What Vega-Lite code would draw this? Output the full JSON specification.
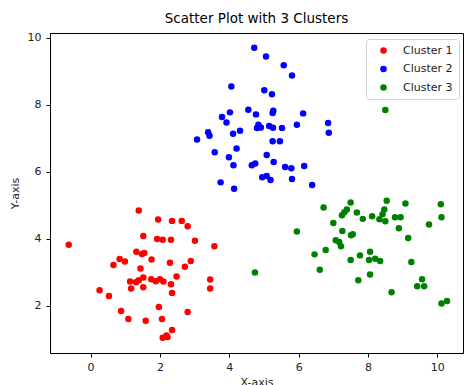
{
  "$schema": "https://vega.github.io/schema/vega-lite/v6.json",
  "autosize": "none",
  "width": 413,
  "height": 320,
  "padding": {"left": 50, "top": 33, "right": 2, "bottom": 32},
  "background": "white",
  "config": {
    "font": "DejaVu Sans",
    "view": {"stroke": "#000", "strokeWidth": 1},
    "axis": {"grid": false, "domain": false, "tickColor": "#000", "tickSize": 4, "labelFontSize": 11, "labelColor": "#222", "titleFontSize": 11, "titleFontWeight": "normal", "titleColor": "#222", "labelFont": "DejaVu Sans", "titleFont": "DejaVu Sans"}
  },
  "title": {"text": "Scatter Plot with 3 Clusters", "fontSize": 13.5, "fontWeight": "normal", "font": "DejaVu Sans", "color": "#000", "offset": 6, "anchor": "middle"},
  "datasets": {
    "pts": [
      {"x": 1.39, "y": 4.84, "c": "Cluster 1"},
      {"x": 1.95, "y": 4.57, "c": "Cluster 1"},
      {"x": 2.35, "y": 4.53, "c": "Cluster 1"},
      {"x": 2.63, "y": 4.53, "c": "Cluster 1"},
      {"x": 2.80, "y": 4.37, "c": "Cluster 1"},
      {"x": -0.63, "y": 3.82, "c": "Cluster 1"},
      {"x": 1.52, "y": 4.08, "c": "Cluster 1"},
      {"x": 1.92, "y": 3.99, "c": "Cluster 1"},
      {"x": 2.08, "y": 3.97, "c": "Cluster 1"},
      {"x": 2.32, "y": 3.97, "c": "Cluster 1"},
      {"x": 3.01, "y": 3.94, "c": "Cluster 1"},
      {"x": 3.57, "y": 3.77, "c": "Cluster 1"},
      {"x": 1.32, "y": 3.61, "c": "Cluster 1"},
      {"x": 1.48, "y": 3.54, "c": "Cluster 1"},
      {"x": 1.55, "y": 3.57, "c": "Cluster 1"},
      {"x": 0.84, "y": 3.39, "c": "Cluster 1"},
      {"x": 0.99, "y": 3.32, "c": "Cluster 1"},
      {"x": 1.76, "y": 3.38, "c": "Cluster 1"},
      {"x": 0.66, "y": 3.21, "c": "Cluster 1"},
      {"x": 2.29, "y": 3.28, "c": "Cluster 1"},
      {"x": 2.89, "y": 3.33, "c": "Cluster 1"},
      {"x": 2.72, "y": 3.16, "c": "Cluster 1"},
      {"x": 1.44, "y": 3.11, "c": "Cluster 1"},
      {"x": 2.48, "y": 2.87, "c": "Cluster 1"},
      {"x": 1.52, "y": 2.84, "c": "Cluster 1"},
      {"x": 1.75, "y": 2.79, "c": "Cluster 1"},
      {"x": 1.88, "y": 2.73, "c": "Cluster 1"},
      {"x": 2.00, "y": 2.79, "c": "Cluster 1"},
      {"x": 2.10, "y": 2.72, "c": "Cluster 1"},
      {"x": 1.14, "y": 2.72, "c": "Cluster 1"},
      {"x": 1.31, "y": 2.70, "c": "Cluster 1"},
      {"x": 1.39, "y": 2.76, "c": "Cluster 1"},
      {"x": 2.32, "y": 2.64, "c": "Cluster 1"},
      {"x": 3.45, "y": 2.78, "c": "Cluster 1"},
      {"x": 3.45, "y": 2.51, "c": "Cluster 1"},
      {"x": 1.17, "y": 2.51, "c": "Cluster 1"},
      {"x": 1.52, "y": 2.55, "c": "Cluster 1"},
      {"x": 2.35, "y": 2.38, "c": "Cluster 1"},
      {"x": 0.26, "y": 2.46, "c": "Cluster 1"},
      {"x": 0.53, "y": 2.29, "c": "Cluster 1"},
      {"x": 1.97, "y": 1.96, "c": "Cluster 1"},
      {"x": 0.88, "y": 1.84, "c": "Cluster 1"},
      {"x": 2.80, "y": 1.81, "c": "Cluster 1"},
      {"x": 1.09, "y": 1.60, "c": "Cluster 1"},
      {"x": 1.59, "y": 1.55, "c": "Cluster 1"},
      {"x": 2.06, "y": 1.60, "c": "Cluster 1"},
      {"x": 2.35, "y": 1.27, "c": "Cluster 1"},
      {"x": 2.19, "y": 1.11, "c": "Cluster 1"},
      {"x": 2.08, "y": 1.04, "c": "Cluster 1"},
      {"x": 2.22, "y": 1.06, "c": "Cluster 1"},
      {"x": 4.72, "y": 9.70, "c": "Cluster 2"},
      {"x": 5.06, "y": 9.44, "c": "Cluster 2"},
      {"x": 5.57, "y": 9.18, "c": "Cluster 2"},
      {"x": 5.81, "y": 8.87, "c": "Cluster 2"},
      {"x": 4.06, "y": 8.54, "c": "Cluster 2"},
      {"x": 5.01, "y": 8.43, "c": "Cluster 2"},
      {"x": 5.23, "y": 8.31, "c": "Cluster 2"},
      {"x": 4.55, "y": 7.85, "c": "Cluster 2"},
      {"x": 4.02, "y": 7.77, "c": "Cluster 2"},
      {"x": 4.77, "y": 7.71, "c": "Cluster 2"},
      {"x": 5.27, "y": 7.82, "c": "Cluster 2"},
      {"x": 5.25, "y": 7.75, "c": "Cluster 2"},
      {"x": 6.13, "y": 7.74, "c": "Cluster 2"},
      {"x": 3.79, "y": 7.63, "c": "Cluster 2"},
      {"x": 3.92, "y": 7.47, "c": "Cluster 2"},
      {"x": 6.85, "y": 7.45, "c": "Cluster 2"},
      {"x": 4.84, "y": 7.40, "c": "Cluster 2"},
      {"x": 4.80, "y": 7.30, "c": "Cluster 2"},
      {"x": 4.91, "y": 7.32, "c": "Cluster 2"},
      {"x": 5.15, "y": 7.36, "c": "Cluster 2"},
      {"x": 5.26, "y": 7.31, "c": "Cluster 2"},
      {"x": 5.52, "y": 7.30, "c": "Cluster 2"},
      {"x": 5.95, "y": 7.40, "c": "Cluster 2"},
      {"x": 3.39, "y": 7.18, "c": "Cluster 2"},
      {"x": 3.43, "y": 7.07, "c": "Cluster 2"},
      {"x": 4.31, "y": 7.22, "c": "Cluster 2"},
      {"x": 4.11, "y": 7.13, "c": "Cluster 2"},
      {"x": 6.87, "y": 7.16, "c": "Cluster 2"},
      {"x": 3.07, "y": 6.96, "c": "Cluster 2"},
      {"x": 5.25, "y": 6.91, "c": "Cluster 2"},
      {"x": 5.46, "y": 6.91, "c": "Cluster 2"},
      {"x": 4.21, "y": 6.69, "c": "Cluster 2"},
      {"x": 3.58, "y": 6.58, "c": "Cluster 2"},
      {"x": 3.99, "y": 6.43, "c": "Cluster 2"},
      {"x": 5.08, "y": 6.50, "c": "Cluster 2"},
      {"x": 4.12, "y": 6.19, "c": "Cluster 2"},
      {"x": 5.28, "y": 6.29, "c": "Cluster 2"},
      {"x": 4.65, "y": 6.19, "c": "Cluster 2"},
      {"x": 4.75, "y": 6.24, "c": "Cluster 2"},
      {"x": 5.61, "y": 6.14, "c": "Cluster 2"},
      {"x": 5.79, "y": 6.10, "c": "Cluster 2"},
      {"x": 6.16, "y": 6.17, "c": "Cluster 2"},
      {"x": 4.95, "y": 5.83, "c": "Cluster 2"},
      {"x": 5.08, "y": 5.87, "c": "Cluster 2"},
      {"x": 5.19, "y": 5.75, "c": "Cluster 2"},
      {"x": 5.81, "y": 5.78, "c": "Cluster 2"},
      {"x": 3.75, "y": 5.68, "c": "Cluster 2"},
      {"x": 6.39, "y": 5.60, "c": "Cluster 2"},
      {"x": 4.14, "y": 5.49, "c": "Cluster 2"},
      {"x": 8.50, "y": 7.84, "c": "Cluster 3"},
      {"x": 6.72, "y": 4.93, "c": "Cluster 3"},
      {"x": 7.50, "y": 5.08, "c": "Cluster 3"},
      {"x": 8.54, "y": 5.13, "c": "Cluster 3"},
      {"x": 9.08, "y": 5.05, "c": "Cluster 3"},
      {"x": 10.10, "y": 5.03, "c": "Cluster 3"},
      {"x": 7.39, "y": 4.87, "c": "Cluster 3"},
      {"x": 7.32, "y": 4.79, "c": "Cluster 3"},
      {"x": 7.25, "y": 4.70, "c": "Cluster 3"},
      {"x": 7.68, "y": 4.78, "c": "Cluster 3"},
      {"x": 7.85, "y": 4.59, "c": "Cluster 3"},
      {"x": 8.12, "y": 4.67, "c": "Cluster 3"},
      {"x": 8.47, "y": 4.87, "c": "Cluster 3"},
      {"x": 8.42, "y": 4.73, "c": "Cluster 3"},
      {"x": 8.33, "y": 4.58, "c": "Cluster 3"},
      {"x": 8.50, "y": 4.52, "c": "Cluster 3"},
      {"x": 8.78, "y": 4.64, "c": "Cluster 3"},
      {"x": 8.94, "y": 4.64, "c": "Cluster 3"},
      {"x": 10.12, "y": 4.64, "c": "Cluster 3"},
      {"x": 7.00, "y": 4.47, "c": "Cluster 3"},
      {"x": 8.89, "y": 4.31, "c": "Cluster 3"},
      {"x": 9.76, "y": 4.42, "c": "Cluster 3"},
      {"x": 5.95, "y": 4.21, "c": "Cluster 3"},
      {"x": 7.26, "y": 4.23, "c": "Cluster 3"},
      {"x": 7.51, "y": 4.10, "c": "Cluster 3"},
      {"x": 7.56, "y": 4.13, "c": "Cluster 3"},
      {"x": 9.16, "y": 4.02, "c": "Cluster 3"},
      {"x": 7.07, "y": 3.95, "c": "Cluster 3"},
      {"x": 7.17, "y": 3.90, "c": "Cluster 3"},
      {"x": 7.22, "y": 3.77, "c": "Cluster 3"},
      {"x": 6.78, "y": 3.66, "c": "Cluster 3"},
      {"x": 6.46, "y": 3.53, "c": "Cluster 3"},
      {"x": 7.77, "y": 3.50, "c": "Cluster 3"},
      {"x": 8.06, "y": 3.61, "c": "Cluster 3"},
      {"x": 7.50, "y": 3.36, "c": "Cluster 3"},
      {"x": 8.03, "y": 3.36, "c": "Cluster 3"},
      {"x": 8.21, "y": 3.40, "c": "Cluster 3"},
      {"x": 8.35, "y": 3.33, "c": "Cluster 3"},
      {"x": 9.25, "y": 3.30, "c": "Cluster 3"},
      {"x": 6.61, "y": 3.07, "c": "Cluster 3"},
      {"x": 8.06, "y": 2.93, "c": "Cluster 3"},
      {"x": 7.72, "y": 2.76, "c": "Cluster 3"},
      {"x": 9.56, "y": 2.79, "c": "Cluster 3"},
      {"x": 9.42, "y": 2.58, "c": "Cluster 3"},
      {"x": 9.62, "y": 2.58, "c": "Cluster 3"},
      {"x": 8.68, "y": 2.40, "c": "Cluster 3"},
      {"x": 10.12, "y": 2.06, "c": "Cluster 3"},
      {"x": 10.28, "y": 2.14, "c": "Cluster 3"},
      {"x": 4.74, "y": 2.99, "c": "Cluster 3"}
    ]
  },
  "data": {"name": "pts"},
  "mark": {"type": "circle", "size": 42, "opacity": 1},
  "encoding": {
    "x": {"field": "x", "type": "quantitative", "title": "X-axis",
      "scale": {"domain": [-1.17, 10.74], "nice": false, "zero": false},
      "axis": {"values": [0, 2, 4, 6, 8, 10], "labelPadding": 4, "titlePadding": 4}},
    "y": {"field": "y", "type": "quantitative", "title": "Y-axis",
      "scale": {"domain": [0.585, 10.14], "nice": false, "zero": false},
      "axis": {"values": [2, 4, 6, 8, 10], "labelPadding": 5, "titlePadding": 7}},
    "color": {"field": "c", "type": "nominal", "title": null,
      "scale": {"domain": ["Cluster 1", "Cluster 2", "Cluster 3"], "range": ["#ff0000", "#0000ff", "#008000"]},
      "legend": {"orient": "none", "legendX": 316, "legendY": 6, "fillColor": "white", "strokeColor": "#d0d0d0", "cornerRadius": 3, "padding": 6, "symbolType": "circle", "symbolSize": 42, "symbolOffset": 6, "labelOffset": 14, "labelFontSize": 11, "labelColor": "#222", "rowPadding": 6.5, "labelFont": "DejaVu Sans"}}
  }
}
